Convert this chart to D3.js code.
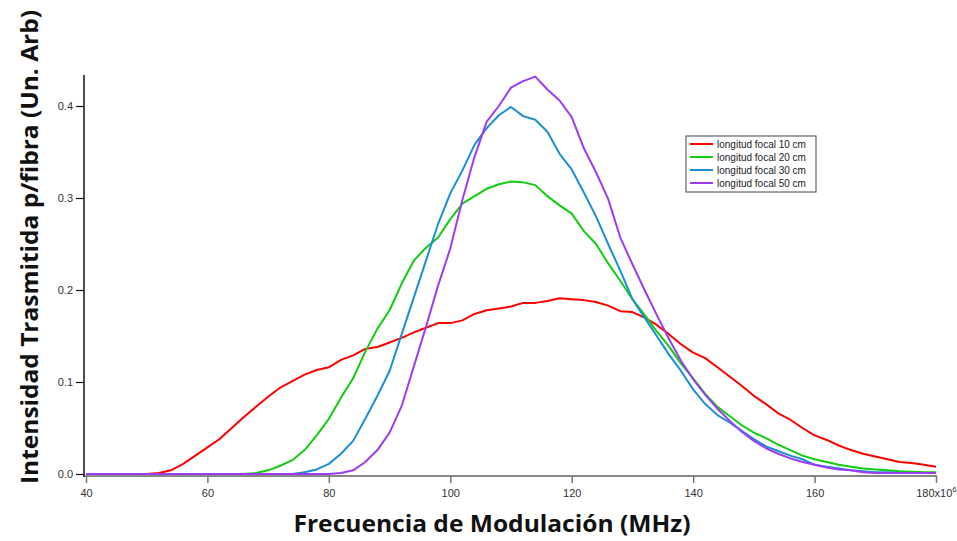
<!DOCTYPE html>
<html>
<head>
<meta charset="utf-8">
<script src="https://cdn.jsdelivr.net/npm/d3@7"></script>
<style>
  body { margin: 0; background: #fff; }
  svg { display: block; }
</style>
</head>
<body>
<div id="chart"></div>
<script>
// frecuencias (MHz)
var freq = [40, 42, 44, 46, 48, 50, 52, 54, 56, 58, 60, 62, 64, 66, 68, 70, 72, 74, 76, 78,
  80, 82, 84, 86, 88, 90, 92, 94, 96, 98, 100, 102, 104, 106, 108, 110, 112, 114, 116, 118,
  120, 122, 124, 126, 128, 130, 132, 134, 136, 138, 140, 142, 144, 146, 148, 150, 152, 154, 156, 158,
  160, 162, 164, 166, 168, 170, 172, 174, 176, 178, 180];

var focal10 = [0, 0, 0, 0, 0, 0, 0.001, 0.004, 0.011, 0.020, 0.029, 0.038, 0.050, 0.062, 0.073, 0.084, 0.094, 0.101, 0.108, 0.113,
  0.116, 0.124, 0.129, 0.136, 0.138, 0.143, 0.148, 0.154, 0.159, 0.164, 0.164, 0.167, 0.174, 0.178, 0.180, 0.182, 0.186, 0.186, 0.188, 0.191,
  0.190, 0.189, 0.187, 0.183, 0.177, 0.176, 0.170, 0.162, 0.152, 0.141, 0.132, 0.126, 0.116, 0.106, 0.096, 0.085, 0.076, 0.066, 0.059, 0.050,
  0.042, 0.037, 0.031, 0.026, 0.022, 0.019, 0.016, 0.013, 0.012, 0.010, 0.008];

var focal20 = [0, 0, 0, 0, 0, 0, 0, 0, 0, 0, 0, 0, 0, 0, 0.001, 0.004, 0.009, 0.015, 0.026, 0.042,
  0.060, 0.083, 0.104, 0.133, 0.158, 0.178, 0.207, 0.232, 0.246, 0.257, 0.277, 0.294, 0.302, 0.310, 0.315, 0.318, 0.317, 0.314, 0.302, 0.292,
  0.283, 0.264, 0.250, 0.229, 0.210, 0.190, 0.173, 0.155, 0.139, 0.120, 0.104, 0.087, 0.073, 0.063, 0.053, 0.045, 0.039, 0.032, 0.026, 0.020,
  0.016, 0.013, 0.010, 0.008, 0.006, 0.005, 0.004, 0.003, 0.0025, 0.002, 0.002];

var focal30 = [0, 0, 0, 0, 0, 0, 0, 0, 0, 0, 0, 0, 0, 0, 0, 0, 0, 0, 0.002, 0.005,
  0.011, 0.022, 0.036, 0.060, 0.085, 0.112, 0.152, 0.192, 0.232, 0.272, 0.305, 0.330, 0.358, 0.376, 0.390, 0.399, 0.389, 0.385, 0.372, 0.348,
  0.331, 0.306, 0.280, 0.250, 0.221, 0.190, 0.170, 0.150, 0.130, 0.112, 0.092, 0.076, 0.064, 0.056, 0.047, 0.038, 0.030, 0.025, 0.020, 0.016,
  0.010, 0.008, 0.006, 0.004, 0.003, 0.002, 0.002, 0.001, 0.001, 0.001, 0.001];

var focal50 = [0, 0, 0, 0, 0, 0, 0, 0, 0, 0, 0, 0, 0, 0, 0, 0, 0, 0, 0, 0,
  0, 0.001, 0.004, 0.013, 0.026, 0.045, 0.074, 0.117, 0.160, 0.205, 0.245, 0.298, 0.345, 0.383, 0.400, 0.420, 0.427, 0.432, 0.418, 0.406,
  0.388, 0.354, 0.328, 0.299, 0.257, 0.228, 0.200, 0.173, 0.147, 0.123, 0.103, 0.086, 0.071, 0.058, 0.046, 0.036, 0.028, 0.022, 0.017, 0.013,
  0.010, 0.007, 0.005, 0.004, 0.002, 0.001, 0.001, 0.001, 0.001, 0.001, 0.001];

var seriesNames = ["longitud focal 10 cm", "longitud focal 20 cm", "longitud focal 30 cm", "longitud focal 50 cm"];
var seriesValues = [focal10, focal20, focal30, focal50];
var seriesColors = ["#ff0000", "#11cc11", "#1a8fd6", "#9b3cf0"];

var xTicks = [40, 60, 80, 100, 120, 140, 160, 180];
var yTicks = [0, 0.1, 0.2, 0.3, 0.4];

var width = 957, height = 541;

var svg = d3.select("#chart").append("svg")
  .attr("width", width)
  .attr("height", height);

var x = d3.scaleLinear().domain([40, 180]).range([86, 936]);
var y = d3.scaleLinear().domain([0, 0.4337]).range([474, 75]);

// eje x
var xAxis = svg.append("g")
  .attr("transform", "translate(0,476)")
  .call(d3.axisBottom(x).tickValues(xTicks).tickSize(7).tickSizeOuter(0)
    .tickFormat(function(d) { return d == 180 ? "" : d; }));
xAxis.select(".domain").attr("stroke", "#888").attr("stroke-width", 2)
  .attr("d", "M84,0H937");
xAxis.selectAll(".tick line").attr("stroke", "#777").attr("stroke-width", 1.5);
xAxis.selectAll(".tick text")
  .attr("y", 13)
  .attr("fill", "#333")
  .style("font-family", "'Liberation Sans', Arial, sans-serif")
  .style("font-size", "11px");

var last = xAxis.selectAll(".tick").filter(function(d) { return d == 180; }).select("text");
last.append("tspan").text("180x10");
last.append("tspan").attr("dy", -5).style("font-size", "8px").text("6");

// eje y
var yAxis = svg.append("g")
  .attr("transform", "translate(84,0)")
  .call(d3.axisLeft(y).tickValues(yTicks).tickSize(8).tickSizeOuter(0).tickFormat(d3.format(".1f")));
yAxis.select(".domain").attr("stroke", "#111").attr("stroke-width", 1.5)
  .attr("d", "M0,75V477");
yAxis.selectAll(".tick line").attr("stroke", "#111").attr("stroke-width", 1.2);
yAxis.selectAll(".tick text")
  .attr("x", -11)
  .attr("fill", "#333")
  .style("font-family", "'Liberation Sans', Arial, sans-serif")
  .style("font-size", "11px");

// curvas
var line = d3.line()
  .x(function(d, i) { return x(freq[i]); })
  .y(function(d) { return y(d); });

for (var s = 0; s < seriesValues.length; s++) {
  svg.append("path")
    .datum(seriesValues[s])
    .attr("d", line)
    .attr("fill", "none")
    .attr("stroke", seriesColors[s])
    .attr("stroke-width", 2)
    .attr("stroke-linejoin", "round");
}

// leyenda
var legend = svg.append("g").attr("transform", "translate(686,136)");
legend.append("rect")
  .attr("x", 0).attr("y", 0)
  .attr("width", 130).attr("height", 56)
  .attr("fill", "#fff")
  .attr("stroke", "#444")
  .attr("stroke-width", 1);
for (var i = 0; i < seriesNames.length; i++) {
  var ly = 8 + i * 13;
  legend.append("line")
    .attr("x1", 4).attr("x2", 27)
    .attr("y1", ly).attr("y2", ly)
    .attr("stroke", seriesColors[i])
    .attr("stroke-width", 2);
  legend.append("text")
    .attr("x", 31).attr("y", ly + 4)
    .attr("fill", "#222")
    .style("font-family", "'Liberation Sans', Arial, sans-serif")
    .style("font-size", "10px")
    .text(seriesNames[i]);
}

// titulos
svg.append("text")
  .attr("x", 492).attr("y", 532)
  .attr("text-anchor", "middle")
  .attr("textLength", 397)
  .attr("lengthAdjust", "spacingAndGlyphs")
  .attr("fill", "#111")
  .style("font-family", "'Open Sans', sans-serif")
  .style("font-weight", "bold")
  .style("font-size", "24px")
  .text("Frecuencia de Modulación (MHz)");

svg.append("text")
  .attr("transform", "translate(38,247) rotate(-90)")
  .attr("text-anchor", "middle")
  .attr("textLength", 474)
  .attr("lengthAdjust", "spacingAndGlyphs")
  .attr("fill", "#111")
  .style("font-family", "'Open Sans', sans-serif")
  .style("font-weight", "bold")
  .style("font-size", "24px")
  .text("Intensidad Trasmitida p/fibra (Un. Arb)");
</script>
</body>
</html>
